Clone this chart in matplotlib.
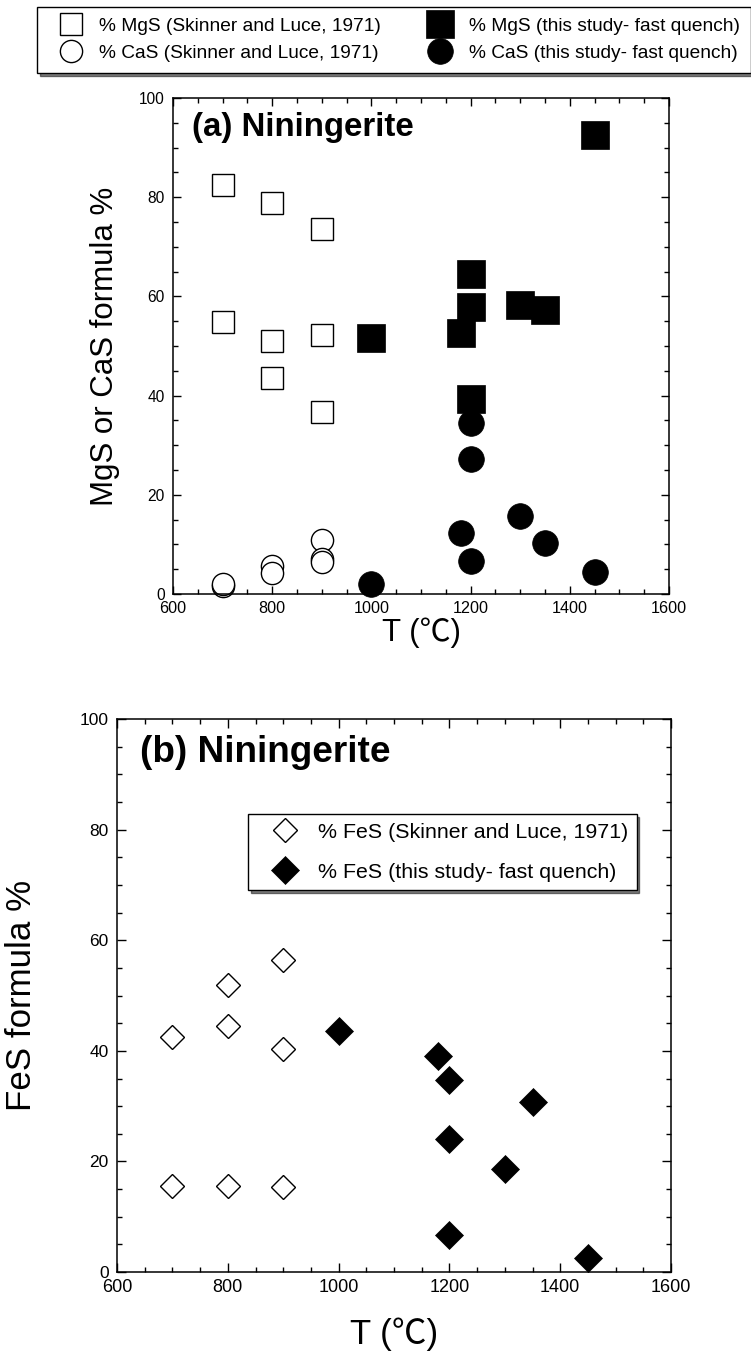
import numpy as np
import matplotlib
matplotlib.use("Agg")
import matplotlib.pyplot as plt
from matplotlib.ticker import MultipleLocator

plt.rcParams['font.family'] = ['Liberation Sans', 'Noto Sans CJK SC', 'DejaVu Sans']

#Skinner and Luce, 1971
mgs_sk_t = [700, 700, 800, 800, 800, 900, 900, 900]
mgs_sk = [82.5, 54.9, 78.8, 51.1, 43.6, 73.5, 52.2, 36.6]
cas_sk_t = [700, 700, 800, 800, 900, 900, 900]
cas_sk = [1.6, 2.0, 5.6, 4.3, 10.8, 7.0, 6.4]
fes_sk_t = [700, 700, 800, 800, 800, 900, 900, 900]
fes_sk = [42.5, 15.6, 44.5, 51.9, 15.6, 56.4, 40.3, 15.3]

#This study - fast quench
mgs_fq_t = [1000, 1180, 1200, 1200, 1200, 1300, 1350, 1450]
mgs_fq = [51.6, 52.6, 64.6, 57.9, 39.3, 58.2, 57.3, 92.5]
cas_fq_t = [1000, 1180, 1200, 1200, 1200, 1300, 1350, 1450]
cas_fq = [2.0, 12.3, 34.5, 27.3, 6.7, 15.7, 10.3, 4.5]
fes_fq_t = [1000, 1180, 1200, 1200, 1200, 1300, 1350, 1450]
fes_fq = [43.6, 39.1, 34.7, 24.0, 6.7, 18.7, 30.8, 2.5]

lab_mgs_sk = "% MgS (Skinner and Luce, 1971)"
lab_cas_sk = "% CaS (Skinner and Luce, 1971)"
lab_mgs_fq = "% MgS (this study- fast quench)"
lab_cas_fq = "% CaS (this study- fast quench)"
lab_fes_sk = "% FeS (Skinner and Luce, 1971)"
lab_fes_fq = "% FeS (this study- fast quench)"

fig = plt.figure(figsize=(7.51, 13.57), dpi=100)
ax1 = fig.add_axes([0.2304, 0.5623, 0.6605, 0.3655])
ax2 = fig.add_axes([0.1558, 0.0626, 0.7377, 0.4075])

#k scales the fonts/ticks (panel b is a blown-up copy of panel a)
def style_axes(ax, k):
    ax.set_xlim(600, 1600)
    ax.set_ylim(0, 100)
    ax.xaxis.set_major_locator(MultipleLocator(200))
    ax.xaxis.set_minor_locator(MultipleLocator(50))
    ax.yaxis.set_major_locator(MultipleLocator(20))
    ax.yaxis.set_minor_locator(MultipleLocator(5))
    ax.tick_params(which='both', direction='in', top=True, right=True, width=1)
    ax.tick_params(which='major', length=6 * k)
    ax.tick_params(which='minor', length=3.5 * k)
    ax.tick_params(axis='x', labelsize=11.6 * k, pad=5)
    ax.tick_params(axis='y', labelsize=11.2 * k, pad=6)
    for s in ax.spines.values():
        s.set_linewidth(1.1)
    ax.set_xlabel("T (℃)", fontsize=22.4 * k, va='center')

#Panel (a)
h1, = ax1.plot(mgs_sk_t, mgs_sk, 's', ms=16, mfc='white', mec='black', mew=1, clip_on=False)
h2, = ax1.plot(cas_sk_t, cas_sk, 'o', ms=16, mfc='white', mec='black', mew=1, clip_on=False)
h3, = ax1.plot(mgs_fq_t, mgs_fq, 's', ms=19.5, mfc='black', mec='black', mew=0.5, clip_on=False)
h4, = ax1.plot(cas_fq_t, cas_fq, 'o', ms=18.5, mfc='black', mec='black', mew=0.5, clip_on=False)
style_axes(ax1, 1.0)
ax1.set_ylabel("MgS or CaS formula %", fontsize=22.5)
ax1.yaxis.set_label_coords(-0.107, 0.5)
ax1.xaxis.set_label_coords(0.5, -0.079)
ax1.text(0.038, 0.94, "(a) Niningerite", transform=ax1.transAxes,
         fontsize=23.8, fontweight='bold', va='center', ha='left')

leg = fig.legend([h1, h2, h3, h4], [lab_mgs_sk, lab_cas_sk, lab_mgs_fq, lab_cas_fq],
                 ncol=2, loc='upper left', bbox_to_anchor=(0.0493, 0.9948),
                 fontsize=13.8, frameon=True, fancybox=False, shadow={'color': 'black'},
                 borderpad=0.56, labelspacing=0.49, handletextpad=0.3,
                 columnspacing=1.9, handlelength=2.38, borderaxespad=0)
leg.get_frame().set_edgecolor('black')
leg.get_frame().set_linewidth(1)

#Panel (b)
h5, = ax2.plot(fes_sk_t, fes_sk, 'D', ms=12, mfc='white', mec='black', mew=1, clip_on=False)
h6, = ax2.plot(fes_fq_t, fes_fq, 'D', ms=14, mfc='black', mec='black', mew=0.5, clip_on=False)
style_axes(ax2, 1.117)
ax2.set_ylabel("FeS formula %", fontsize=25.1)
ax2.yaxis.set_label_coords(-0.143, 0.5)
ax2.xaxis.set_label_coords(0.5, -0.112)
ax2.text(0.042, 0.94, "(b) Niningerite", transform=ax2.transAxes,
         fontsize=26.6, fontweight='bold', va='center', ha='left')

leg2 = ax2.legend([h5, h6], [lab_fes_sk, lab_fes_fq], loc='upper left',
                  bbox_to_anchor=(0.236, 0.828), fontsize=15.4, frameon=True,
                  fancybox=False, shadow={'color': 'black'}, borderpad=0.41,
                  labelspacing=0.97, handletextpad=0.22, handlelength=2.64, borderaxespad=0)
leg2.get_frame().set_edgecolor('black')
leg2.get_frame().set_linewidth(1)

fig.savefig("out.png", dpi=100)
